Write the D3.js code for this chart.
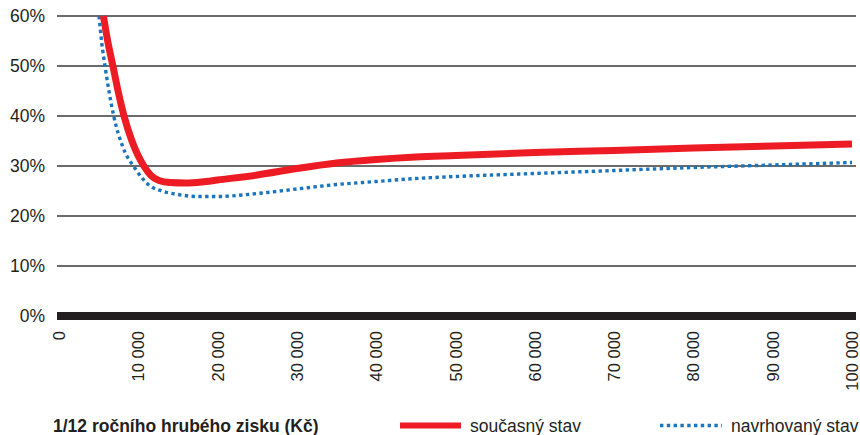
<!DOCTYPE html>
<html><head><meta charset="utf-8">
<script src="https://cdn.jsdelivr.net/npm/d3@7"></script>
<style>body{margin:0;background:#fff;} text{font-family:"Liberation Sans",Arial,sans-serif;fill:#231f20;}</style>
</head><body><svg id="c" width="860" height="435"></svg>
<script>
const xTicks = [0,10000,20000,30000,40000,50000,60000,70000,80000,90000,100000];
const yTicks = [0,10,20,30,40,50,60];
const seriesNames = ["současný stav","navrhovaný stav"];
const currentX = [5600,6200,6800,7450,8200,9200,10700,11600,12600,14000,16000,18000,20000,25000,30000,35000,40000,45000,50000,60000,70000,80000,90000,100000];
const currentY = [60,54.5,50,45,40,35,30,28.1,27.1,26.7,26.6,26.8,27.2,28.2,29.5,30.6,31.3,31.8,32.1,32.7,33.1,33.6,34.0,34.4];
const proposedX = [5050,5400,5800,6300,6900,8000,9600,11500,13000,15000,17500,20000,25000,30000,35000,40000,45000,50000,60000,70000,80000,90000,100000];
const proposedY = [60,54.5,50,45,40,34,29.5,26,25,24.3,23.9,23.9,24.5,25.4,26.3,26.9,27.5,27.9,28.5,29.1,29.7,30.2,30.7];
const xTitle = "1/12 ročního hrubého zisku (Kč)";

const svg = d3.select("#c");
const x = d3.scaleLinear().domain([0,100000]).range([59,852]);
const y = d3.scaleLinear().domain([0,60]).range([316,16]);
const fmt = d => d===0 ? "0" : d3.format(",")(d).replace(/,/g," ");

svg.append("g").selectAll("line").data(yTicks.filter(d=>d>0)).join("line")
  .attr("x1",57).attr("x2",856).attr("y1",d=>y(d)).attr("y2",d=>y(d))
  .attr("stroke","#3a3a3a").attr("stroke-width",1.3);
svg.append("g").selectAll("text").data(yTicks).join("text")
  .attr("x",45).attr("y",d=>y(d)).attr("dy","0.35em").attr("text-anchor","end")
  .attr("font-size",17.5).text(d=>d+"%");
svg.append("g").selectAll("text").data(xTicks).join("text")
  .attr("transform",d=>`translate(${x(d)+6},331) rotate(-90)`)
  .attr("text-anchor","end").attr("font-size",16.5).text(fmt);

const line = d3.line().curve(d3.curveMonotoneX);
const cur = currentX.map((v,i)=>[x(v),y(currentY[i])]);
const pro = proposedX.map((v,i)=>[x(v),y(proposedY[i])]);
svg.append("path").attr("d",line(pro)).attr("fill","none").attr("stroke","#1b75bc")
  .attr("stroke-width",3.4).attr("stroke-dasharray","3.4,3.4");
svg.append("path").attr("d",line(cur)).attr("fill","none").attr("stroke","#ed1c24")
  .attr("stroke-width",7);

svg.append("line").attr("x1",57).attr("x2",856).attr("y1",y(0)).attr("y2",y(0))
  .attr("stroke","#231f20").attr("stroke-width",8);

svg.append("text").attr("x",53).attr("y",432).attr("font-size",17.5).attr("font-weight","bold").text(xTitle);
svg.append("line").attr("x1",400).attr("x2",461).attr("y1",425.5).attr("y2",425.5).attr("stroke","#ed1c24").attr("stroke-width",6);
svg.append("text").attr("x",470).attr("y",432).attr("font-size",17.5).text(seriesNames[0]);
svg.append("line").attr("x1",660).attr("x2",722).attr("y1",425.5).attr("y2",425.5).attr("stroke","#1b75bc").attr("stroke-width",3.4).attr("stroke-dasharray","3.4,3.4");
svg.append("text").attr("x",731).attr("y",432).attr("font-size",17.5).text(seriesNames[1]);
</script></body></html>
